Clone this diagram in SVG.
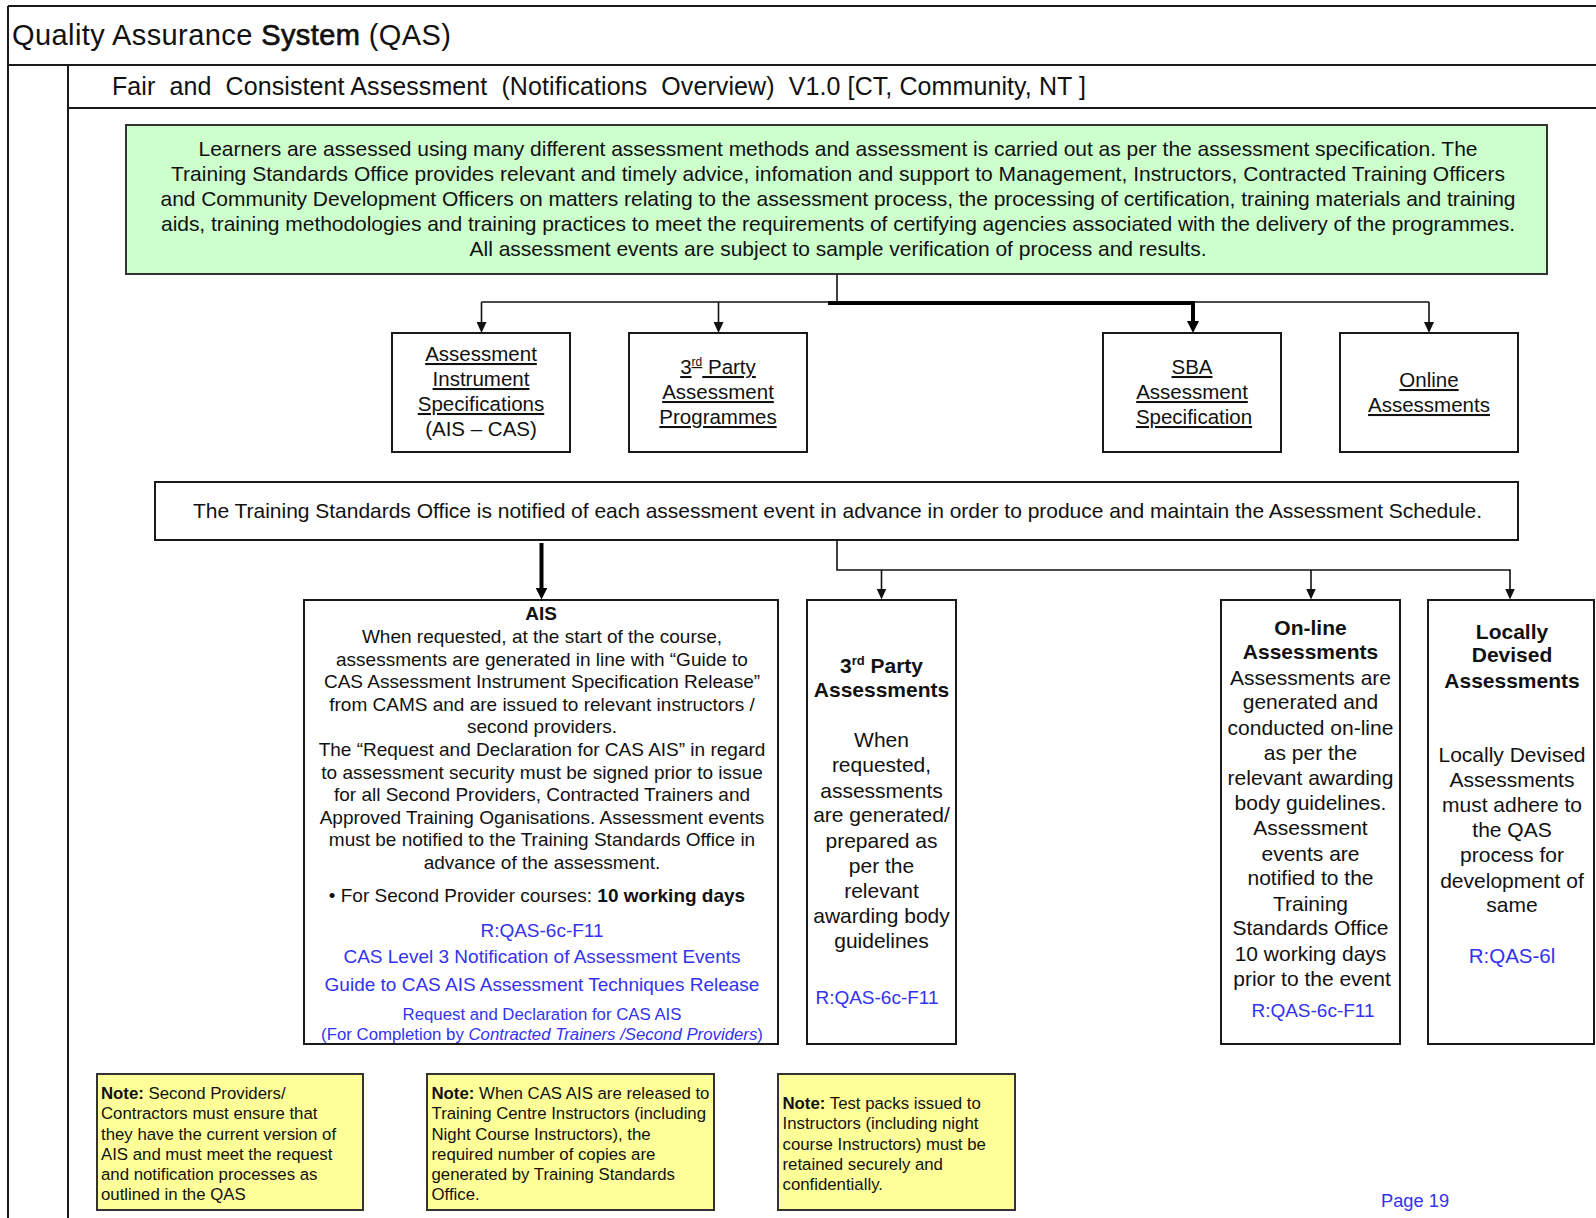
<svg xmlns="http://www.w3.org/2000/svg" width="1596" height="1218" viewBox="0 0 1596 1218">
  <defs>
    <style>
      .frame { stroke:#1a1a1a; stroke-width:2; fill:none; }
      .box { fill:#ffffff; stroke:#1a1a1a; stroke-width:2; }
      .green { fill:#ccffcc; stroke:#333333; stroke-width:2; }
      .note { fill:#ffff99; stroke:#333333; stroke-width:2; }
      text { font-family:"Liberation Sans", Arial, sans-serif; fill:#111111; }
      .c { text-anchor:middle; }
      .u { text-decoration:underline; }
      .b { font-weight:bold; }
      .link { fill:#3333ee; }
      .f21 { font-size:21px; }
      .f20 { font-size:20.5px; }
      .f19 { font-size:19px; }
      .f17 { font-size:16.8px; }
      .conn { stroke:#111111; stroke-width:1.6; fill:none; }
      .thick { stroke:#000000; stroke-width:4; fill:none; }
    </style>
    <marker id="arrow" viewBox="0 0 11 10" refX="1" refY="5" markerWidth="11" markerHeight="10" markerUnits="userSpaceOnUse" orient="auto">
      <path d="M0,0 L11,5 L0,10 z" fill="#111111"/>
    </marker>
    <marker id="arrowBig" viewBox="0 0 12 12" refX="1" refY="6" markerWidth="12" markerHeight="12" markerUnits="userSpaceOnUse" orient="auto">
      <path d="M0,0 L12,6 L0,12 z" fill="#000000"/>
    </marker>
  </defs>

  <!-- page frame and headings -->
  <g id="page-frame">
    <path class="frame" d="M8,6 H1596 M8,6 V1218 M8,65 H1596 M68,65 V1218 M68,108 H1596"/>
    <text x="12" y="45" font-size="29" textLength="439">Quality Assurance <tspan stroke="#111111" stroke-width="0.7">System</tspan> (QAS)</text>
    <text x="112" y="95" font-size="25" xml:space="preserve" textLength="974">Fair  and  Consistent Assessment  (Notifications  Overview)  V1.0 [CT, Community, NT ]</text>
  </g>

  <!-- connectors -->
  <g id="connectors">
    <path class="conn" d="M837,274 V302 M481.5,302 H1429"/>
    <path class="conn" d="M481.5,302 V323" marker-end="url(#arrow)"/>
    <path class="conn" d="M718.5,302 V323" marker-end="url(#arrow)"/>
    <path class="conn" d="M1429,302 V323" marker-end="url(#arrow)"/>
    <path class="thick" stroke-width="3" d="M828,303 H1193 V322" marker-end="url(#arrowBig)"/>

    <path class="thick" d="M541.5,543 V588.5" marker-end="url(#arrowBig)"/>
    <path class="conn" d="M837,540 V570 H1510 V589.5" marker-end="url(#arrow)"/>
    <path class="conn" d="M881.5,570 V589.5" marker-end="url(#arrow)"/>
    <path class="conn" d="M1311,570 V589.5" marker-end="url(#arrow)"/>
  </g>

  <!-- overview statement -->
  <g id="overview">
    <rect class="green" x="126" y="125" width="1421" height="149"/>
    <text class="c f21" x="838" y="156" textLength="1279">Learners are assessed using many different assessment methods and assessment is carried out as per the assessment specification. The</text>
    <text class="c f21" x="838" y="180.5" textLength="1334">Training Standards Office provides relevant and timely advice, infomation and support to Management, Instructors, Contracted Training Officers</text>
    <text class="c f21" x="838" y="205.5" textLength="1355">and Community Development Officers on matters relating to the assessment process, the processing of certification, training materials and training</text>
    <text class="c f21" x="838" y="230.5" textLength="1354">aids, training methodologies and training practices to meet the requirements of certifying agencies associated with the delivery of the programmes.</text>
    <text class="c f21" x="838" y="255.5" textLength="737">All assessment events are subject to sample verification of process and results.</text>
  </g>

  <!-- assessment types -->
  <g id="ais-cas">
    <rect class="box" x="392" y="333" width="178" height="119"/>
    <text class="c f20 u" x="481" y="361">Assessment</text>
    <text class="c f20 u" x="481" y="386">Instrument</text>
    <text class="c f20 u" x="481" y="411">Specifications</text>
    <text class="c f20" x="481" y="436">(AIS – CAS)</text>
  </g>
  <g id="third-party-programmes">
    <rect class="box" x="629" y="333" width="178" height="119"/>
    <text class="c f20 u" x="718" y="374">3<tspan font-size="12" dy="-8">rd</tspan><tspan dy="8"> Party</tspan></text>
    <text class="c f20 u" x="718" y="399">Assessment</text>
    <text class="c f20 u" x="718" y="424">Programmes</text>
  </g>
  <g id="sba-specification">
    <rect class="box" x="1103" y="333" width="178" height="119"/>
    <text class="c f20 u" x="1192" y="374">SBA</text>
    <text class="c f20 u" x="1192" y="399">Assessment</text>
    <text class="c f20 u" x="1194" y="424">Specification</text>
  </g>
  <g id="online-assessments">
    <rect class="box" x="1340" y="333" width="178" height="119"/>
    <text class="c f20 u" x="1429" y="387">Online</text>
    <text class="c f20 u" x="1429" y="412">Assessments</text>
  </g>

  <!-- notification statement -->
  <g id="notification">
    <rect class="box" x="155" y="482" width="1363" height="58"/>
    <text class="c f21" x="837.5" y="518" textLength="1289">The Training Standards Office is notified of each assessment event in advance in order to produce and maintain the Assessment Schedule.</text>
  </g>

  <!-- AIS detail -->
  <g id="ais">
    <rect class="box" x="304" y="600" width="474" height="444"/>
    <text class="c f19 b" x="541" y="620">AIS</text>
    <text class="c f19" x="542" y="643">When requested, at the start of the course,</text>
    <text class="c f19" x="542" y="665.6">assessments are generated in line with “Guide to</text>
    <text class="c f19" x="542" y="688.2">CAS Assessment Instrument Specification Release”</text>
    <text class="c f19" x="542" y="710.8">from CAMS and are issued to relevant instructors /</text>
    <text class="c f19" x="542" y="733.4">second providers.</text>
    <text class="c f19" x="542" y="756">The “Request and Declaration for CAS AIS” in regard</text>
    <text class="c f19" x="542" y="778.6">to assessment security must be signed prior to issue</text>
    <text class="c f19" x="542" y="801.2">for all Second Providers, Contracted Trainers and</text>
    <text class="c f19" x="542" y="823.8">Approved Training Oganisations. Assessment events</text>
    <text class="c f19" x="542" y="846.4">must be notified to the Training Standards Office in</text>
    <text class="c f19" x="542" y="869">advance of the assessment.</text>
    <text class="c f19" x="537" y="902">• For Second Provider courses: <tspan class="b">10 working days</tspan></text>
    <text class="c f19 link" x="542" y="936.5">R:QAS-6c-F11</text>
    <text class="c f19 link" x="542" y="963">CAS Level 3 Notification of Assessment Events</text>
    <text class="c f19 link" x="542" y="991">Guide to CAS AIS Assessment Techniques Release</text>
    <text class="c f17 link" x="542" y="1020">Request and Declaration for CAS AIS</text>
    <text class="c f17 link" x="542" y="1040">(For Completion by <tspan font-style="italic">Contracted Trainers /Second Providers</tspan>)</text>
  </g>

  <!-- 3rd party detail -->
  <g id="third-party">
    <rect class="box" x="807" y="600" width="149" height="444"/>
    <text class="c f21 b" x="881.5" y="672.5">3<tspan font-size="13" dy="-8">rd</tspan><tspan dy="8"> Party</tspan></text>
    <text class="c f21 b" x="881.5" y="696.5">Assessments</text>
    <text class="c f21" x="881.5" y="746.5">When</text>
    <text class="c f21" x="881.5" y="772">requested,</text>
    <text class="c f21" x="881.5" y="797.5">assessments</text>
    <text class="c f21" x="881.5" y="822">are generated/</text>
    <text class="c f21" x="881.5" y="847.5">prepared as</text>
    <text class="c f21" x="881.5" y="872.5">per the</text>
    <text class="c f21" x="881.5" y="897.5">relevant</text>
    <text class="c f21" x="881.5" y="922.5">awarding body</text>
    <text class="c f21" x="881.5" y="947.5">guidelines</text>
    <text class="c f19 link" x="877" y="1004">R:QAS-6c-F11</text>
  </g>

  <!-- on-line detail -->
  <g id="online">
    <rect class="box" x="1221" y="600" width="179" height="444"/>
    <text class="c f21 b" x="1310.5" y="634.5">On-line</text>
    <text class="c f21 b" x="1310.5" y="659">Assessments</text>
    <text class="c f21" x="1310.5" y="684.5">Assessments are</text>
    <text class="c f21" x="1310.5" y="709">generated and</text>
    <text class="c f21" x="1310.5" y="734.5">conducted on-line</text>
    <text class="c f21" x="1310.5" y="759.5">as per the</text>
    <text class="c f21" x="1310.5" y="784.5">relevant awarding</text>
    <text class="c f21" x="1310.5" y="810">body guidelines.</text>
    <text class="c f21" x="1310.5" y="835">Assessment</text>
    <text class="c f21" x="1310.5" y="860.5">events are</text>
    <text class="c f21" x="1310.5" y="885">notified to the</text>
    <text class="c f21" x="1310.5" y="911">Training</text>
    <text class="c f21" x="1310.5" y="935">Standards Office</text>
    <text class="c f21" x="1310.5" y="961">10 working days</text>
    <text class="c f21" x="1312" y="985.5">prior to the event</text>
    <text class="c f19 link" x="1313" y="1016.5">R:QAS-6c-F11</text>
  </g>

  <!-- locally devised detail -->
  <g id="locally-devised">
    <rect class="box" x="1428" y="600" width="166" height="444"/>
    <text class="c f21 b" x="1512" y="638.5">Locally</text>
    <text class="c f21 b" x="1512" y="662">Devised</text>
    <text class="c f21 b" x="1512" y="687.5">Assessments</text>
    <text class="c f21" x="1512" y="761.5">Locally Devised</text>
    <text class="c f21" x="1512" y="787">Assessments</text>
    <text class="c f21" x="1512" y="811.5">must adhere to</text>
    <text class="c f21" x="1512" y="837">the QAS</text>
    <text class="c f21" x="1512" y="862">process for</text>
    <text class="c f21" x="1512" y="887.5">development of</text>
    <text class="c f21" x="1512" y="912">same</text>
    <text class="c f20 link" x="1512" y="962.5">R:QAS-6l</text>
  </g>

  <!-- notes -->
  <g id="note-providers">
    <rect class="note" x="97" y="1074" width="266" height="136"/>
    <text class="f17" x="101" y="1099"><tspan class="b">Note:</tspan> Second Providers/</text>
    <text class="f17" x="101" y="1119.3">Contractors must ensure that</text>
    <text class="f17" x="101" y="1139.5">they have the current version of</text>
    <text class="f17" x="101" y="1159.8">AIS and must meet the request</text>
    <text class="f17" x="101" y="1180">and notification processes as</text>
    <text class="f17" x="101" y="1200.3">outlined in the QAS</text>
  </g>
  <g id="note-release">
    <rect class="note" x="427" y="1074" width="287" height="136"/>
    <text class="f17" x="431.5" y="1099"><tspan class="b">Note:</tspan> When CAS AIS are released to</text>
    <text class="f17" x="431.5" y="1119.3">Training Centre Instructors (including</text>
    <text class="f17" x="431.5" y="1139.5">Night Course Instructors), the</text>
    <text class="f17" x="431.5" y="1159.8">required number of copies are</text>
    <text class="f17" x="431.5" y="1180">generated by Training Standards</text>
    <text class="f17" x="431.5" y="1200.3">Office.</text>
  </g>
  <g id="note-test-packs">
    <rect class="note" x="778" y="1074" width="237" height="136"/>
    <text class="f17" x="782.5" y="1109"><tspan class="b">Note:</tspan> Test packs issued to</text>
    <text class="f17" x="782.5" y="1129.3">Instructors (including night</text>
    <text class="f17" x="782.5" y="1149.5">course Instructors) must be</text>
    <text class="f17" x="782.5" y="1169.8">retained securely and</text>
    <text class="f17" x="782.5" y="1190">confidentially.</text>
  </g>

  <text class="link" x="1381" y="1206.5" font-size="18.3">Page 19</text>
</svg>
